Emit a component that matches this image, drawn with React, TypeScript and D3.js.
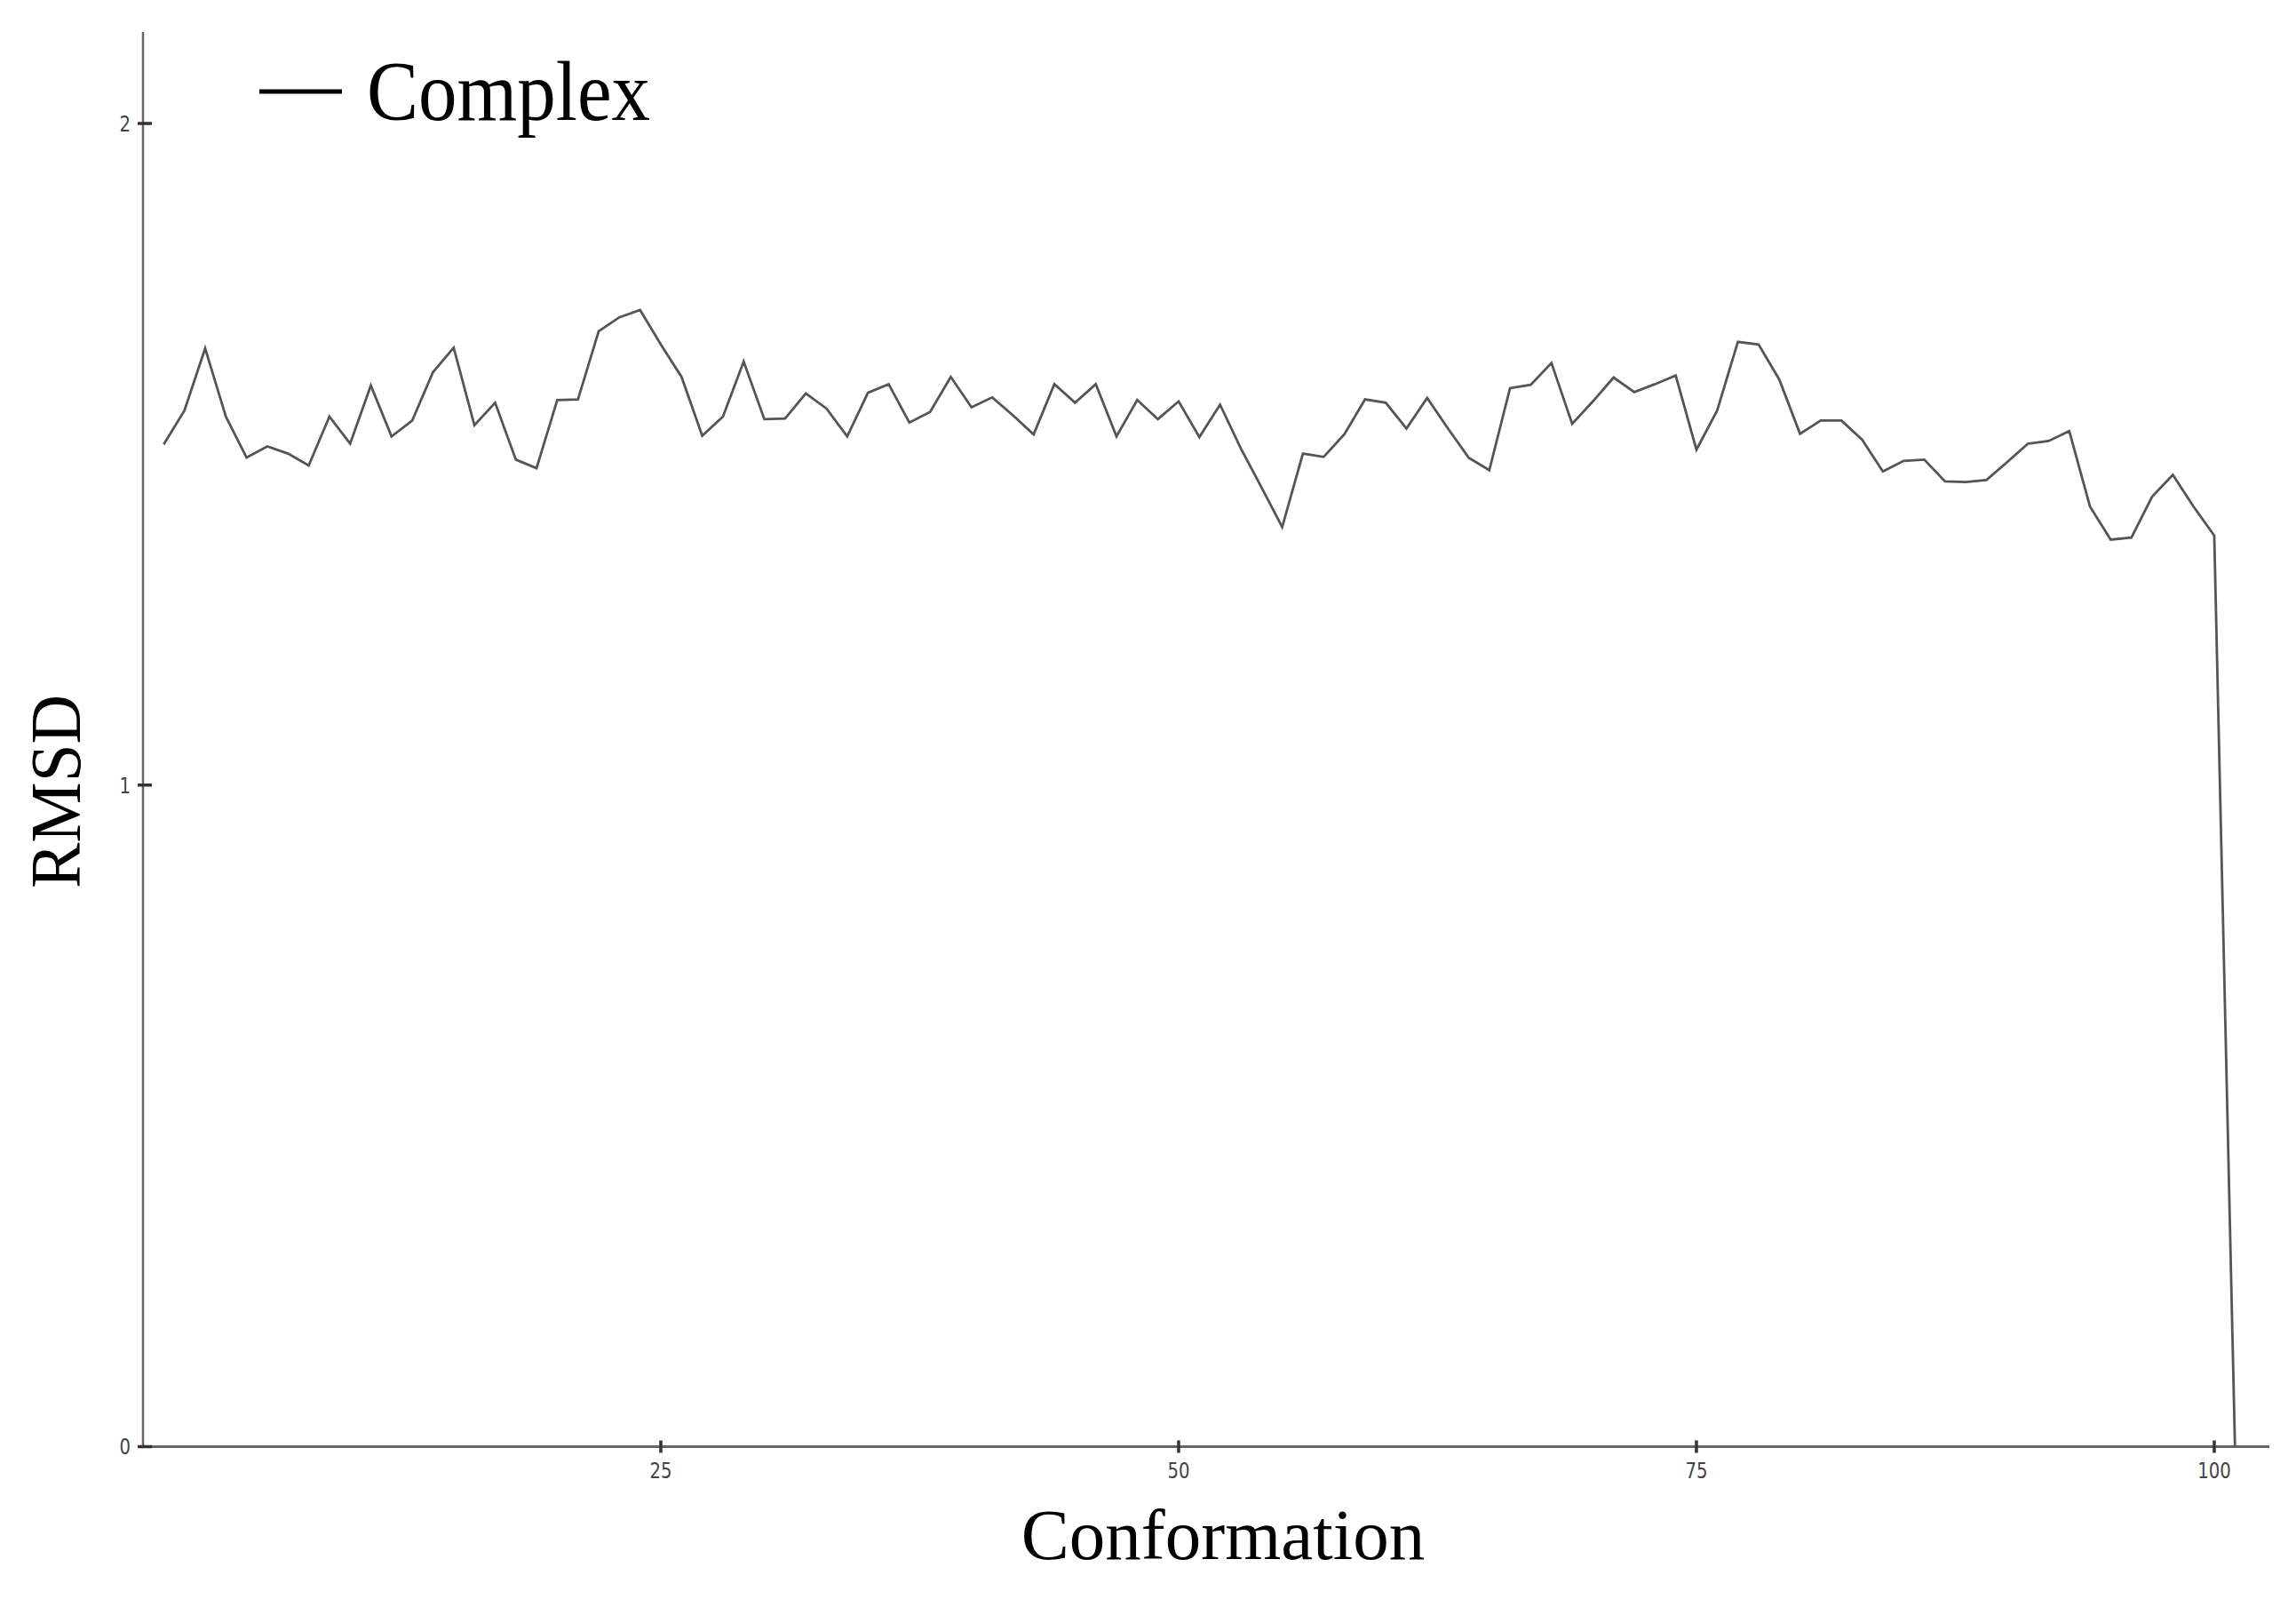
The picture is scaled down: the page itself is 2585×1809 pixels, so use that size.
import React from "react";
import * as d3 from "d3";

const conformations: number[] = Array.from({ length: 101 }, (_, i) => i + 1);
const rmsdComplex: number[] = [
  1.515, 1.566, 1.660, 1.557, 1.495, 1.512, 1.501, 1.483, 1.557, 1.516,
  1.604, 1.527, 1.551, 1.624, 1.661, 1.544, 1.578, 1.492, 1.479, 1.582,
  1.583, 1.686, 1.707, 1.718, 1.666, 1.617, 1.528, 1.557, 1.640, 1.553,
  1.554, 1.592, 1.569, 1.527, 1.593, 1.606, 1.548, 1.564, 1.617, 1.571,
  1.586, 1.559, 1.530, 1.606, 1.578, 1.606, 1.527, 1.582, 1.553, 1.580,
  1.526, 1.575, 1.509, 1.450, 1.390, 1.501, 1.496, 1.530, 1.583, 1.578,
  1.539, 1.585, 1.539, 1.495, 1.476, 1.600, 1.605, 1.638, 1.546, 1.580,
  1.616, 1.594, 1.606, 1.619, 1.507, 1.566, 1.670, 1.666, 1.613, 1.531,
  1.551, 1.551, 1.522, 1.474, 1.490, 1.492, 1.459, 1.458, 1.461, 1.488,
  1.516, 1.520, 1.535, 1.421, 1.371, 1.374, 1.436, 1.469, 1.421, 1.377,
  0,
];
const xTicks: number[] = [25, 50, 75, 100];
const yTicks: number[] = [0, 1, 2];
const seriesName = "Complex";
const xTitle = "Conformation";
const yTitle = "RMSD";

const W = 2585;
const H = 1809;
const X0 = 161;
const X1 = 2555;
const Y0 = 1628.5;
const YTOP = 36;

export default function App() {
  const x = d3.scaleLinear().domain([0, 102.66]).range([X0, X1]);
  const y = d3.scaleLinear().domain([0, 2]).range([Y0, 139]);
  const line = d3
    .line<number>()
    .x((_, i) => x(conformations[i]))
    .y((d) => y(d));
  const path = line(rmsdComplex) || "";
  const serif = "'Liberation Serif', 'Times New Roman', serif";
  const tickFont = "'DejaVu Sans', 'Liberation Sans', sans-serif";
  return (
    <svg
      width={W}
      height={H}
      style={{ position: "absolute", left: 0, top: 0, background: "#fff" }}
    >
      <rect x={0} y={0} width={W} height={H} fill="#fff" />
      {/* axes */}
      <line x1={X0} y1={YTOP} x2={X0} y2={Y0} stroke="#666" strokeWidth={2.5} />
      <line x1={X0} y1={Y0} x2={X1} y2={Y0} stroke="#666" strokeWidth={3} />
      {yTicks.map((t) => (
        <g key={"y" + t}>
          <line x1={X0 - 6} x2={X0 + 10} y1={y(t)} y2={y(t)} stroke="#333" strokeWidth={3.5} />
          <text
            x={X0 - 14}
            y={y(t) + 9}
            textAnchor="end"
            fontFamily={tickFont}
            fontSize={24}
            fill="#444"
            transform={`translate(${X0 - 14},0) scale(0.82,1) translate(${-(X0 - 14)},0)`}
          >
            {t}
          </text>
        </g>
      ))}
      {xTicks.map((t) => (
        <g key={"x" + t}>
          <line x1={x(t)} x2={x(t)} y1={Y0 - 7} y2={Y0 + 7} stroke="#333" strokeWidth={3.5} />
          <text
            x={x(t)}
            y={1664}
            textAnchor="middle"
            fontFamily={tickFont}
            fontSize={24}
            fill="#444"
            transform={`translate(${x(t)},0) scale(0.82,1) translate(${-x(t)},0)`}
          >
            {t}
          </text>
        </g>
      ))}
      {/* data line */}
      <path d={path} fill="none" stroke="#555" strokeWidth={2.8} strokeLinejoin="miter" />
      {/* legend */}
      <line x1={292} x2={385} y1={103} y2={103} stroke="#000" strokeWidth={5} />
      <text
        x={413}
        y={135}
        fontFamily={serif}
        fontSize={96}
        fill="#000"
        textLength={319}
        lengthAdjust="spacingAndGlyphs"
      >
        {seriesName}
      </text>
      {/* axis titles */}
      <text
        x={1377}
        y={1755}
        textAnchor="middle"
        fontFamily={serif}
        fontSize={81}
        fill="#000"
      >
        {xTitle}
      </text>
      <text
        transform={`translate(90,891) rotate(-90)`}
        x={0}
        y={0}
        textAnchor="middle"
        fontFamily={serif}
        fontSize={81}
        fill="#000"
        textLength={218}
        lengthAdjust="spacingAndGlyphs"
      >
        {yTitle}
      </text>
    </svg>
  );
}
